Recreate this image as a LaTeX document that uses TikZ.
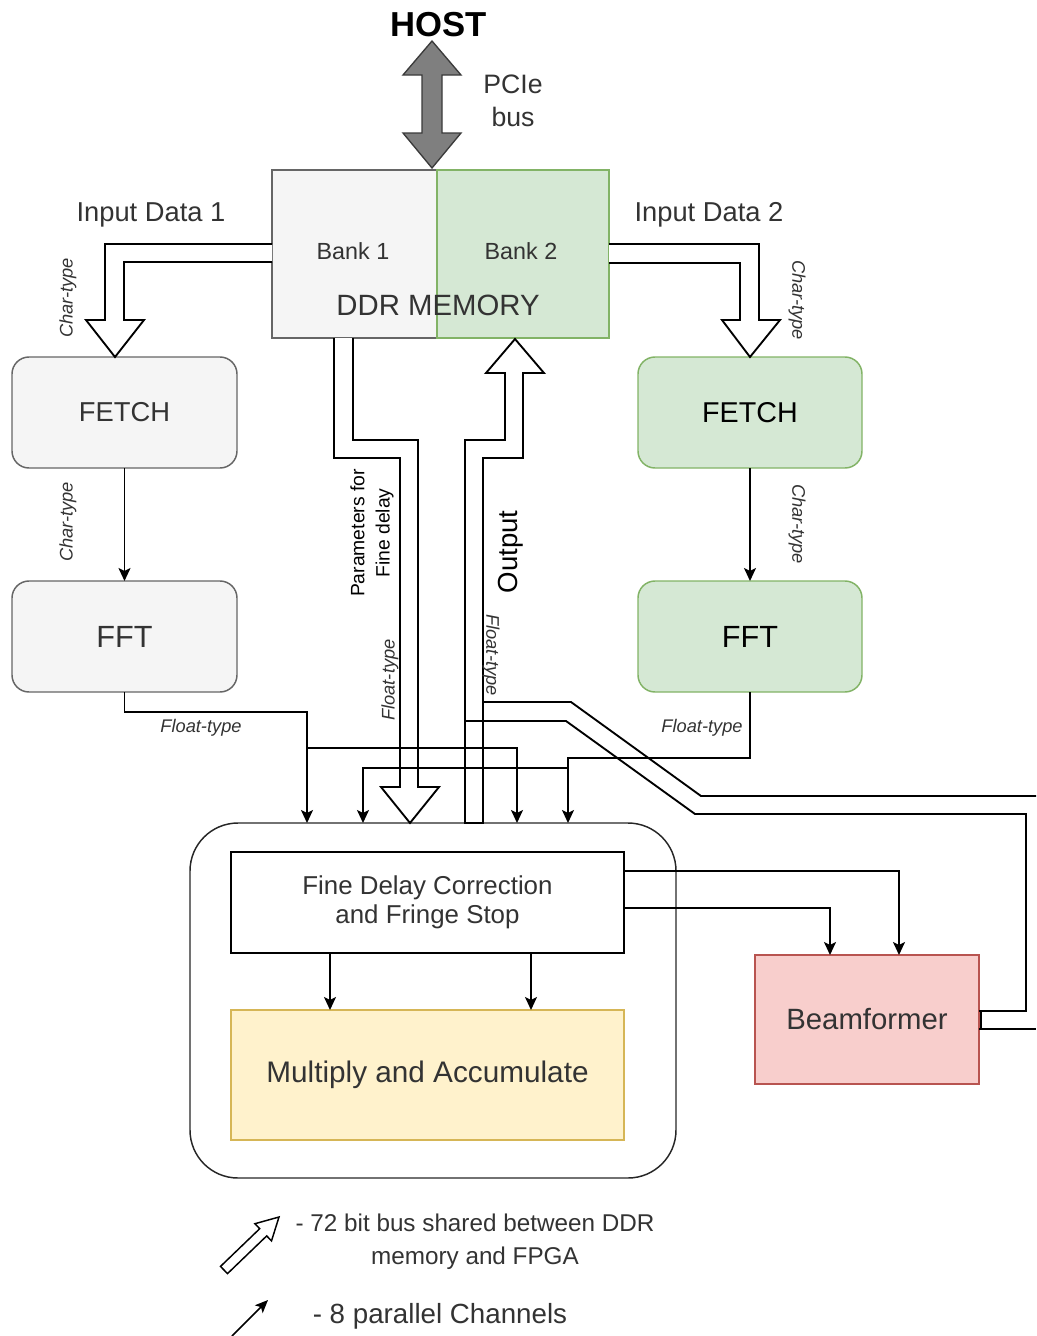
\documentclass[tikz,border=0pt]{standalone}
\usepackage{fontspec}
\setmainfont{Liberation Sans}
\usetikzlibrary{arrows.meta,calc}
\newdimen\px \px=0.75pt
\newcommand\fz[2]{\fontsize{#1pt}{#2pt}\selectfont}
\definecolor{graystroke}{HTML}{666666}
\definecolor{grayfill}{HTML}{F5F5F5}
\definecolor{greenfill}{HTML}{D5E8D4}
\definecolor{greenstroke}{HTML}{82B366}
\definecolor{yellowfill}{HTML}{FFF2CC}
\definecolor{yellowstroke}{HTML}{D6B656}
\definecolor{redfill}{HTML}{F8CECC}
\definecolor{redstroke}{HTML}{B85450}
\definecolor{darktxt}{HTML}{333333}
\definecolor{hostfill}{HTML}{7F7F7F}
\definecolor{hoststroke}{HTML}{3A3A3A}
\tikzset{
  every node/.style={inner sep=0pt, outer sep=0pt},
  conn/.style={line width=1.4pt, draw=black},
  arr/.style={conn, -{Stealth[length=9.75pt, width=9pt, inset=2.25pt]}},
  flex/.style={draw=black, fill=white, line width=1.4pt, line join=miter},
  graybox/.style={draw=graystroke, fill=grayfill, line width=1.1pt, text=darktxt},
  greenbox/.style={draw=greenstroke, fill=greenfill, line width=1.1pt, text=black},
  procbox/.style={rounded corners=12.75pt, minimum width=168.75pt, minimum height=83.25pt},
  typelbl/.style={font=\fz{13.7}{16}\itshape, text=darktxt},
}
\begin{document}
\begin{tikzpicture}[x=0.75pt,y=-0.75pt]
\useasboundingbox (0,0) rectangle (1036,1336);

% ---- host and PCIe link ----
\node[font=\fz{26}{30}\bfseries] (host) at (439,25) {HOST};
\node[font=\fz{20}{25}, align=center, text=darktxt] (pcie) at (513,101) {PCIe\\bus};
\draw[fill=hostfill, draw=hoststroke, line width=1pt]
  (432,41) -- (461,75) -- (442,75) -- (442,133) -- (461,133) -- (432,168)
  -- (403,133) -- (422,133) -- (422,75) -- (403,75) -- cycle;

% ---- DDR memory banks ----
\node[draw=graystroke, fill=grayfill, line width=1.1pt,
      minimum width=123.75pt, minimum height=126pt] (bank1) at (354.5,254) {};
\node[draw=greenstroke, fill=greenfill, line width=1.1pt,
      minimum width=129pt, minimum height=126pt] (bank2) at (523,254) {};
\node[font=\fz{17.5}{21}, text=darktxt] (bank1lbl) at (353,251) {Bank 1};
\node[font=\fz{17.5}{21}, text=darktxt] (bank2lbl) at (521,251) {Bank 2};
\node[font=\fz{22}{26}, text=darktxt] (ddrlbl) at (438,305) {DDR MEMORY};

\node[font=\fz{20.5}{24}, text=darktxt] (in1lbl) at (151,215) {Input Data 1};
\node[font=\fz{20.5}{24}, text=darktxt] (in2lbl) at (709,215) {Input Data 2};

% ---- processing blocks ----
\node[graybox, procbox, font=\fz{20.5}{24}] (fetch1) at (124.5,412.5) {FETCH};
\node[graybox, procbox, font=\fz{23}{27}] (fft1) at (124.5,636.5) {FFT};
\node[greenbox, procbox, minimum width=168pt, font=\fz{21.5}{25}] (fetch2) at (750,412.5) {FETCH};
\node[greenbox, procbox, minimum width=168pt, font=\fz{23}{27}] (fft2) at (750,636.5) {FFT};

\node[draw=black!85, line width=1.1pt, rounded corners=36pt,
      minimum width=364.5pt, minimum height=266.25pt] (cont) at (433,1000.5) {};
\node[draw=black, fill=white, line width=1.1pt, minimum width=294.75pt, minimum height=75.75pt,
      align=center, font=\fz{19.4}{22}, text=darktxt] (fd) at (427.5,902.5)
      {Fine Delay Correction\\and Fringe Stop};
\node[draw=yellowstroke, fill=yellowfill, line width=1.1pt, minimum width=294.75pt,
      minimum height=97.5pt, font=\fz{22.3}{26}, text=darktxt] (mac) at (427.5,1075)
      {Multiply and Accumulate};
\node[draw=redstroke, fill=redfill, line width=1.1pt, minimum width=168pt,
      minimum height=96.75pt, font=\fz{22}{26}, text=darktxt] (bf) at (867,1019.5)
      {Beamformer};

% ---- wide bus arrows (72 bit) ----
% bank 1 -> fetch 1
\draw[flex] (bank1.west |- 0,244) -- (105,244) -- (105,320) -- (86,320) -- (fetch1.north -| 115,0)
  -- (144,320) -- (124,320) -- (124,262) -- (bank1.west |- 0,262);
% bank 2 -> fetch 2
\draw[flex] (bank2.east |- 0,244) -- (759,244) -- (759,320) -- (780,320) -- (fetch2.north)
  -- (722,320) -- (740,320) -- (740,263) -- (bank2.east |- 0,263);
% fine-delay parameters: bank 1 -> correlator
\draw[flex] (334,338) -- (334,458) -- (400,458) -- (400,787) -- (381,787) -- (410,823)
  -- (439,787) -- (418,787) -- (418,440) -- (353,440) -- (353,338);
% output: correlator -> bank 2
\draw[flex] (465,823) -- (465,440) -- (505,440) -- (505,373) -- (486,373) -- (515,339)
  -- (544,373) -- (523,373) -- (523,458) -- (483,458) -- (483,823) -- cycle;
% beamformer output bus joining the output path
\draw[conn] (484,702) -- (571,702) -- (701,796) -- (1036,796);
\draw[conn] (465,721) -- (566,721) -- (695,814) -- (1026,814) -- (1026,1011) -- (bf.east |- 0,1011);
\draw[conn] (bf.east |- 0,1029) -- (1036,1029);
\draw[conn] (981,1011) -- (981,1029);

% ---- bus labels ----
\node[font=\fz{14.5}{19}, align=center, rotate=90, text=black] (parlbl) at (372,533)
  {Parameters for\\Fine delay};
\node[font=\fz{20.7}{24}, rotate=90, text=black] (outlbl) at (511,552) {Output};
\node[typelbl, rotate=90] (ct1) at (68,298) {Char-type};
\node[typelbl, rotate=90] (ct2) at (68,522) {Char-type};
\node[typelbl, rotate=-90] (ct3) at (797,300) {Char-type};
\node[typelbl, rotate=-90] (ct4) at (797,524) {Char-type};
\node[typelbl, rotate=90] (flt1) at (390,680) {Float-type};
\node[typelbl, rotate=-90] (flt2) at (491,655) {Float-type};
\node[typelbl] (flt3) at (201,728) {Float-type};
\node[typelbl] (flt4) at (702,728) {Float-type};

% ---- 8-channel links ----
\coordinate (c1) at (307,823);
\coordinate (c2) at (363,823);
\coordinate (c3) at (517,823);
\coordinate (c4) at (568,823);
\coordinate (j1) at (307,748);
\coordinate (j2) at (568,768);
\draw[arr] (fetch1.south) -- (fft1.north);
\draw[arr] (fetch2.south) -- (fft2.north);
\draw[arr] (fft1.south) |- (307,712) -- (c1);
\draw[arr] (j1) -| (c3);
\draw[arr] (fft2.south) |- (568,758) -- (c4);
\draw[arr] (j2) -| (c2);
\draw[arr] (fd.south -| 330,0) -- (mac.north -| 330,0);
\draw[arr] (fd.south -| 531,0) -- (mac.north -| 531,0);
\draw[arr] (fd.east |- 0,871) -| (bf.north -| 899,0);
\draw[arr] (fd.east |- 0,908) -| (bf.north -| 830,0);

% ---- legend ----
\draw[flex, line width=1.1pt] (279,1217) -- (271.5,1240.9) -- (266.7,1235.9) -- (227.5,1273.6)
  -- (220.5,1266.4) -- (259.7,1228.7) -- (254.9,1223.7) -- cycle;
\node[font=\fz{18.2}{25}, align=center, text=darktxt] (leg1) at (475,1242)
  {- 72 bit bus shared between DDR\\memory and FPGA};
\coordinate (lega) at (232,1336);
\coordinate (legb) at (268,1300);
\draw[conn, line width=1.1pt, -{Stealth[length=9.75pt, width=8.25pt, inset=2.25pt]}] (lega) -- (legb);
\node[font=\fz{20.8}{25}, text=darktxt] (leg2) at (440,1316) {- 8 parallel Channels};
\end{tikzpicture}
\end{document}
